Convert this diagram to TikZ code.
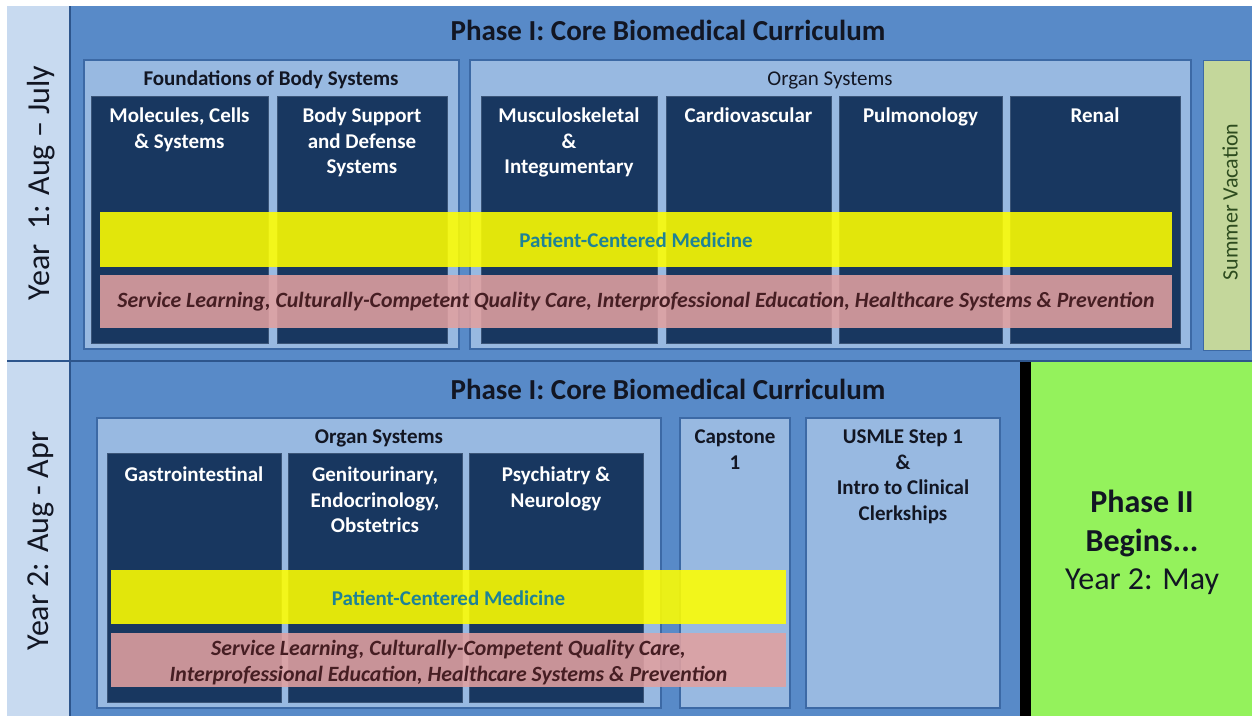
\documentclass[tikz,border=0pt]{standalone}
\usepackage{fontspec}
\setmainfont{Carlito}
\definecolor{bandbl}{RGB}{88,138,200}
\definecolor{lightbl}{RGB}{152,185,225}
\definecolor{yearbl}{RGB}{200,218,240}
\definecolor{darkbl}{RGB}{24,55,96}
\definecolor{edgebl}{RGB}{60,105,165}
\definecolor{sepbl}{RGB}{45,85,140}
\definecolor{ylw}{RGB}{255,255,0}
\definecolor{pnk}{RGB}{225,160,160}
\definecolor{tealtxt}{RGB}{30,130,150}
\definecolor{pinktxt}{RGB}{70,30,35}
\definecolor{summerg}{RGB}{196,215,155}
\definecolor{summert}{RGB}{45,75,30}
\definecolor{phasegreen}{RGB}{148,242,92}
\definecolor{inktxt}{RGB}{18,22,35}
\tikzset{
  bandbox/.style={fill=bandbl},
  yearbox/.style={fill=yearbl},
  lightbox/.style={fill=lightbl, draw=edgebl, line width=1.2pt},
  darkbox/.style={fill=darkbl, draw=darkbl!85!white, line width=0.8pt},
  yband/.style={fill=ylw, fill opacity=0.88},
  pband/.style={fill=pnk, fill opacity=0.88},
  txt/.style={inner sep=0pt, align=center, font=\fontsize{21}{25.5}\selectfont},
  whitetxt/.style={txt, text=white, font=\bfseries\fontsize{21}{25.5}\selectfont, anchor=north},
  inktitle/.style={txt, text=inktxt, font=\bfseries\fontsize{21}{25.5}\selectfont, anchor=north},
  bigtitle/.style={txt, text=inktxt, font=\bfseries\fontsize{29}{34}\selectfont, anchor=north},
  yeartxt/.style={txt, text=inktxt, font=\fontsize{32}{38}\selectfont, rotate=90},
  pctxt/.style={txt, text=tealtxt, font=\bfseries\fontsize{21}{25.5}\selectfont},
  sltxt/.style={txt, text=pinktxt, font=\bfseries\itshape\fontsize{21.8}{25.5}\selectfont},
}
\begin{document}
\begin{tikzpicture}[x=1pt,y=-1pt]
\useasboundingbox (0,0) rectangle (1252,716);
\fill[white] (0,0) rectangle (1252,716);

% ===== Row 1 =====
\fill[yearbox] (7,6) rectangle (70,361);
\fill[bandbox] (70,6) rectangle (1252,361);
\draw[sepbl, line width=1.5pt] (70,6) -- (70,716);

\node[bigtitle] (t1) at (668,20) {Phase I: Core Biomedical Curriculum};
\node[yeartxt] (y1) at (41,183) {Year\ \ 1: Aug – July};

% Foundations
\draw[lightbox] (84,60) rectangle (459,349);
\node[inktitle] (fnd) at (271,71) {Foundations of Body Systems};
\draw[darkbox] (91,96) rectangle (268,343);
\draw[darkbox] (277,96) rectangle (447,343);
\node[whitetxt] (mcs) at (179.5,108) {Molecules, Cells\\\& Systems};
\node[whitetxt] (bsd) at (362,108) {Body Support\\and Defense\\Systems};

% Organ systems (year 1)
\draw[lightbox] (470,60) rectangle (1191,349);
\node[txt, text=inktxt, anchor=north] (os1) at (830,72) {Organ Systems};
\draw[darkbox] (481,96) rectangle (657,343);
\draw[darkbox] (666,96) rectangle (831,343);
\draw[darkbox] (839,96) rectangle (1002,343);
\draw[darkbox] (1010,96) rectangle (1180,343);
\node[whitetxt] (msk) at (569,108) {Musculoskeletal\\\&\\Integumentary};
\node[whitetxt] (cvs) at (748.5,108) {Cardiovascular};
\node[whitetxt] (pul) at (920.5,108) {Pulmonology};
\node[whitetxt] (ren) at (1095,108) {Renal};

% bands year 1
\fill[yband] (100,212) rectangle (1172,267);
\fill[pband] (100,275) rectangle (1172,328);
\node[pctxt] (pcm1) at (636,240) {Patient-Centered Medicine};
\node[sltxt, anchor=base] (sl1) at (636,307) {Service Learning, Culturally-Competent Quality Care, Interprofessional Education, Healthcare Systems \& Prevention};

% Summer vacation
\fill[summerg, draw=edgebl, line width=1pt] (1203,60) rectangle (1250,350);
\node[txt, text=summert, rotate=90, font=\fontsize{22}{26}\selectfont] (sv) at (1230,202) {Summer Vacation};

% ===== Row 2 =====
\fill[yearbox] (7,362) rectangle (70,716);
\fill[bandbox] (70,362) rectangle (1020,716);
\fill[black] (1020,362) rectangle (1031,716);
\fill[phasegreen] (1031,362) rectangle (1252,716);
\draw[sepbl, line width=2pt] (7,361) -- (1252,361);
\draw[sepbl, line width=1.5pt] (70,362) -- (70,716);

\node[bigtitle] (t2) at (668,379) {Phase I: Core Biomedical Curriculum};
\node[yeartxt] (y2) at (41,541) {Year 2: Aug - Apr};

% Organ systems (year 2)
\draw[lightbox] (97,418) rectangle (661,708);
\node[inktitle] (os2) at (379,430) {Organ Systems};
\draw[darkbox] (107,453) rectangle (281,702);
\draw[darkbox] (288,453) rectangle (462,702);
\draw[darkbox] (469,453) rectangle (643,702);
\node[whitetxt] (gi) at (194,467) {Gastrointestinal};
\node[whitetxt] (geo) at (375,467) {Genitourinary,\\Endocrinology,\\Obstetrics};
\node[whitetxt] (psy) at (556,467) {Psychiatry \&\\Neurology};

% Capstone and USMLE
\draw[lightbox] (680,418) rectangle (790,708);
\node[inktitle] (cap) at (735,430) {Capstone\\1};
\draw[lightbox] (806,418) rectangle (1000,708);
\node[inktitle] (usm) at (903,430) {USMLE Step 1\\\&\\Intro to Clinical\\Clerkships};

% bands year 2
\fill[yband] (111,570) rectangle (786,624);
\fill[pband] (111,633) rectangle (786,687);
\node[pctxt] (pcm2) at (448.5,598) {Patient-Centered Medicine};
\node[sltxt, anchor=north] (sl2) at (448.5,640) {Service Learning, Culturally-Competent Quality Care,\\Interprofessional Education, Healthcare Systems \& Prevention};

% Phase II
\node[txt, text=inktxt, anchor=north, font=\fontsize{32}{38.5}\selectfont] (p2) at (1142,490) {\textbf{Phase II}\\\textbf{Begins...}\\Year 2: May};
\end{tikzpicture}
\end{document}
